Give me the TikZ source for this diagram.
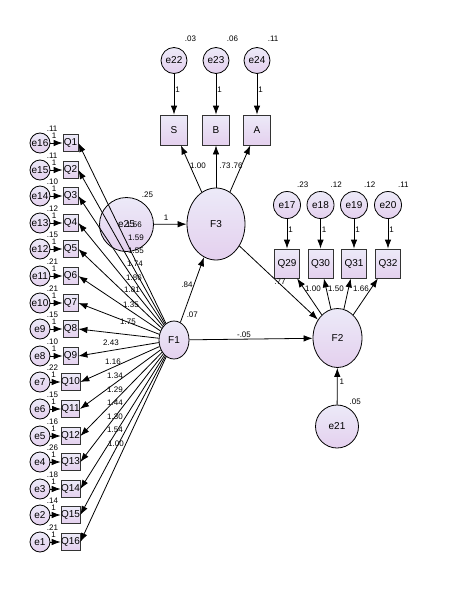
\documentclass[tikz,border=0pt]{standalone}
\usepackage{fontspec}
\setmainfont{Liberation Sans}
\usetikzlibrary{arrows.meta,shapes.geometric}
\definecolor{lavtop}{RGB}{236,234,248}
\definecolor{lavbot}{RGB}{228,208,238}
\tikzset{
  lat/.style={ellipse,draw,line width=0.8pt,top color=lavtop,bottom color=lavbot,inner sep=0pt,font=\fontsize{10}{12}\selectfont},
  err/.style={circle,draw,line width=0.8pt,top color=lavtop,bottom color=lavbot,inner sep=0pt,minimum size=20pt,font=\fontsize{10}{12}\selectfont},
  obs/.style={rectangle,draw=black!80,line width=0.8pt,top color=lavtop,bottom color=lavbot,inner sep=0pt,minimum width=15pt,minimum height=17pt,font=\fontsize{10}{12}\selectfont},
  coef/.style={inner sep=0pt,font=\fontsize{8}{9}\selectfont},
  reg/.style={-{Latex[length=9pt,width=6.5pt]},line width=0.8pt},
}
\begin{document}
\begin{tikzpicture}[x=1pt,y=-1pt,every label/.style={coef}]
\useasboundingbox (0,0) rectangle (456,589);

% factor F3 and its indicators
\draw (174,60.5) node[err,minimum size=26pt,label={[label distance=8pt]60:.03}] (e22) {e22};
\draw (216,60.5) node[err,minimum size=26pt,label={[label distance=8pt]60:.06}] (e23) {e23};
\draw (257,60.5) node[err,minimum size=26pt,label={[label distance=8pt]60:.11}] (e24) {e24};
\draw (174,130) node[obs,minimum width=27pt,minimum height=30pt] (S) {S};
\draw (216,130) node[obs,minimum width=27pt,minimum height=30pt] (B) {B};
\draw (257,130) node[obs,minimum width=27pt,minimum height=30pt] (A) {A};
\draw (216,224) node[lat,minimum width=58pt,minimum height=72pt] (F3) {F3};
\draw (126.5,224.5) node[err,minimum size=54pt,label={[label distance=3pt]60:.25}] (e25) {e25};

% factor F1
\draw (174,340) node[lat,minimum width=30pt,minimum height=38pt,label={[label distance=7pt]60:.07}] (F1) {F1};

% factor F2 and its indicators
\draw (337.5,338) node[lat,minimum width=49pt,minimum height=59pt] (F2) {F2};
\draw (337,426.5) node[err,minimum size=43pt,label={[label distance=3pt]60:.05}] (e21) {e21};
\draw (287,205) node[err,minimum size=27pt,label={[label distance=6pt]60:.23}] (e17) {e17};
\draw (320.5,205) node[err,minimum size=27pt,label={[label distance=6pt]60:.12}] (e18) {e18};
\draw (354,205) node[err,minimum size=27pt,label={[label distance=6pt]60:.12}] (e19) {e19};
\draw (388,205) node[err,minimum size=27pt,label={[label distance=6pt]60:.11}] (e20) {e20};
\draw (287,263.5) node[obs,minimum width=25pt,minimum height=29pt] (Q29) {Q29};
\draw (320.5,263.5) node[obs,minimum width=25pt,minimum height=29pt] (Q30) {Q30};
\draw (354,263.5) node[obs,minimum width=25pt,minimum height=29pt] (Q31) {Q31};
\draw (388,263.5) node[obs,minimum width=25pt,minimum height=29pt] (Q32) {Q32};

% indicators of F1
\draw (40,143) node[err,label={[label distance=3pt]60:.11}] (e16) {e16};
\draw (70.5,143) node[obs] (Q1) {Q1};
\draw (40,170) node[err,label={[label distance=3pt]60:.11}] (e15) {e15};
\draw (70.5,170) node[obs] (Q2) {Q2};
\draw (40,196) node[err,label={[label distance=3pt]60:.10}] (e14) {e14};
\draw (70.5,196) node[obs] (Q3) {Q3};
\draw (40,223) node[err,label={[label distance=3pt]60:.12}] (e13) {e13};
\draw (70.5,223) node[obs] (Q4) {Q4};
\draw (40,249) node[err,label={[label distance=3pt]60:.15}] (e12) {e12};
\draw (70.5,249) node[obs] (Q5) {Q5};
\draw (40,276) node[err,label={[label distance=3pt]60:.21}] (e11) {e11};
\draw (70.5,276) node[obs] (Q6) {Q6};
\draw (40,303) node[err,label={[label distance=3pt]60:.21}] (e10) {e10};
\draw (70.5,303) node[obs] (Q7) {Q7};
\draw (40,329) node[err,label={[label distance=3pt]60:.15}] (e9) {e9};
\draw (70.5,329) node[obs] (Q8) {Q8};
\draw (40,356) node[err,label={[label distance=3pt]60:.10}] (e8) {e8};
\draw (70.5,356) node[obs] (Q9) {Q9};
\draw (40,382) node[err,label={[label distance=3pt]60:.22}] (e7) {e7};
\draw (70.5,382) node[obs] (Q10) {Q10};
\draw (40,409) node[err,label={[label distance=3pt]60:.15}] (e6) {e6};
\draw (70.5,409) node[obs] (Q11) {Q11};
\draw (40,436) node[err,label={[label distance=3pt]60:.16}] (e5) {e5};
\draw (70.5,436) node[obs] (Q12) {Q12};
\draw (40,462) node[err,label={[label distance=3pt]60:.26}] (e4) {e4};
\draw (70.5,462) node[obs] (Q13) {Q13};
\draw (40,489) node[err,label={[label distance=3pt]60:.18}] (e3) {e3};
\draw (70.5,489) node[obs] (Q14) {Q14};
\draw (40,515) node[err,label={[label distance=3pt]60:.14}] (e2) {e2};
\draw (70.5,515) node[obs] (Q15) {Q15};
\draw (40,542) node[err,label={[label distance=3pt]60:.21}] (e1) {e1};
\draw (70.5,542) node[obs] (Q16) {Q16};

% error paths
\draw[reg] (e22) -- node[coef,right=1pt,pos=0.4] (o22) {1} (S);
\draw[reg] (e23) -- node[coef,right=1pt,pos=0.4] (o23) {1} (B);
\draw[reg] (e24) -- node[coef,right=1pt,pos=0.4] (o24) {1} (A);
\draw[reg] (e17) -- node[coef,right=1pt,pos=0.35] (o17) {1} (Q29);
\draw[reg] (e18) -- node[coef,right=1pt,pos=0.35] (o18) {1} (Q30);
\draw[reg] (e19) -- node[coef,right=1pt,pos=0.35] (o19) {1} (Q31);
\draw[reg] (e20) -- node[coef,right=1pt,pos=0.35] (o20) {1} (Q32);
\draw[reg] (e25) -- node[coef,above=3pt,pos=0.37] (o25) {1} (F3);
\draw[reg] (e21) -- node[coef,right=2pt,pos=0.63] (o21) {1} (F2);
\draw[reg] (e16) -- node[coef,above=4pt,pos=0.3] (o16) {1} (Q1);
\draw[reg] (e15) -- node[coef,above=4pt,pos=0.3] (o15) {1} (Q2);
\draw[reg] (e14) -- node[coef,above=4pt,pos=0.3] (o14) {1} (Q3);
\draw[reg] (e13) -- node[coef,above=4pt,pos=0.3] (o13) {1} (Q4);
\draw[reg] (e12) -- node[coef,above=4pt,pos=0.3] (o12) {1} (Q5);
\draw[reg] (e11) -- node[coef,above=4pt,pos=0.3] (o11) {1} (Q6);
\draw[reg] (e10) -- node[coef,above=4pt,pos=0.3] (o10) {1} (Q7);
\draw[reg] (e9) -- node[coef,above=4pt,pos=0.3] (o9) {1} (Q8);
\draw[reg] (e8) -- node[coef,above=4pt,pos=0.3] (o8) {1} (Q9);
\draw[reg] (e7) -- node[coef,above=4pt,pos=0.3] (o7) {1} (Q10);
\draw[reg] (e6) -- node[coef,above=4pt,pos=0.3] (o6) {1} (Q11);
\draw[reg] (e5) -- node[coef,above=4pt,pos=0.3] (o5) {1} (Q12);
\draw[reg] (e4) -- node[coef,above=4pt,pos=0.3] (o4) {1} (Q13);
\draw[reg] (e3) -- node[coef,above=4pt,pos=0.3] (o3) {1} (Q14);
\draw[reg] (e2) -- node[coef,above=4pt,pos=0.3] (o2) {1} (Q15);
\draw[reg] (e1) -- node[coef,above=4pt,pos=0.3] (o1) {1} (Q16);

% structural paths
\draw[reg] (F3) -- (S);
\draw[reg] (F3) -- (B);
\draw[reg] (F3) -- (A);
\draw[reg] (F1) -- (F3);
\draw[reg] (F3) -- (F2);
\draw[reg] (F1) -- (F2);
\draw[reg] (F2) -- (Q29);
\draw[reg] (F2) -- (Q30);
\draw[reg] (F2) -- (Q31);
\draw[reg] (F2) -- (Q32);
\draw (198,166) node[coef] (wS) {1.00};
\draw (225,166) node[coef] (wB) {.73};
\draw (237,166) node[coef] (wA) {.76};
\draw (187,285) node[coef] (w13) {.84};
\draw (244,335) node[coef] (w12) {-.05};
\draw (280,282) node[coef] (w29) {.77};
\draw (313,289) node[coef] (w30) {1.00};
\draw (336,289) node[coef] (w31) {1.50};
\draw (361,289) node[coef] (w32) {1.66};

% loadings of F1
\draw[reg] (F1) -- (Q1.east);
\draw[reg] (F1) -- (Q2.east);
\draw[reg] (F1) -- (Q3.east);
\draw[reg] (F1) -- (Q4.east);
\draw[reg] (F1) -- (Q5.east);
\draw[reg] (F1) -- (Q6.east);
\draw[reg] (F1) -- (Q7.east);
\draw[reg] (F1) -- (Q8.east);
\draw[reg] (F1) -- (Q9.east);
\draw[reg] (F1) -- (Q10.east);
\draw[reg] (F1) -- (Q11.east);
\draw[reg] (F1) -- (Q12.east);
\draw[reg] (F1) -- (Q13.east);
\draw[reg] (F1) -- (Q14.east);
\draw[reg] (F1) -- (Q15.east);
\draw[reg] (F1) -- (Q16.east);
\draw (134,225) node[coef] (w1) {1.56};
\draw (136,238) node[coef] (w2) {1.59};
\draw (136,251) node[coef] (w3) {1.55};
\draw (135,264) node[coef] (w4) {1.74};
\draw (134,278) node[coef] (w5) {1.86};
\draw (132,290) node[coef] (w6) {1.81};
\draw (131,305) node[coef] (w7) {1.35};
\draw (128,322) node[coef] (w8) {1.75};
\draw (111,343) node[coef] (w9) {2.43};
\draw (113,362) node[coef] (w10) {1.16};
\draw (115,376) node[coef] (w11) {1.34};
\draw (115,390) node[coef] (w12b) {1.29};
\draw (115,403) node[coef] (w13b) {1.44};
\draw (115,417) node[coef] (w14) {1.30};
\draw (115,430) node[coef] (w15) {1.54};
\draw (116,444) node[coef] (w16) {1.00};
\end{tikzpicture}
\end{document}
